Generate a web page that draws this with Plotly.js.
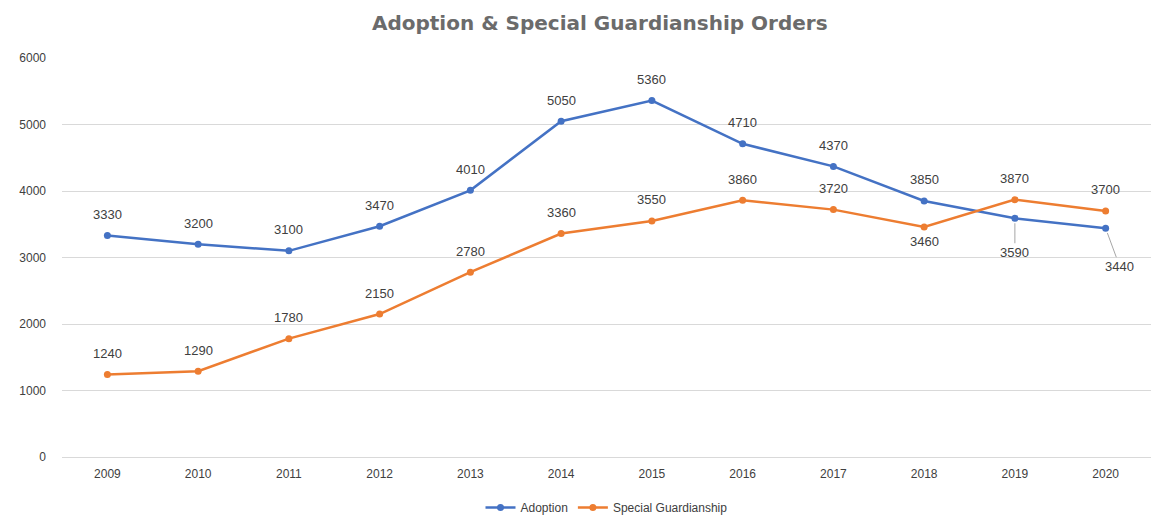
<!DOCTYPE html>
<html>
<head>
<meta charset="utf-8">
<script src="https://cdn.plot.ly/plotly-3.0.1.min.js"></script>
<style>html,body{margin:0;padding:0;background:#fff;}#chart{width:1176px;height:522px;}</style>
</head>
<body>
<div id="chart"></div>
<script>
const years = ['2009','2010','2011','2012','2013','2014','2015','2016','2017','2018','2019','2020'];
const adoption = [3330, 3200, 3100, 3470, 4010, 5050, 5360, 4710, 4370, 3850, 3590, 3440];
const sgo = [1240, 1290, 1780, 2150, 2780, 3360, 3550, 3860, 3720, 3460, 3870, 3700];

// label placement per point
const adoptionLabelPos = ['above','above','above','above','above','above','above','above','above','above','leader','leader'];
const sgoLabelPos = ['above','above','above','above','above','above','above','above','above','below','above','above'];
const leaderOffsets = {'2019': [0, 34], '2020': [14, 38]};

const labelFont = {family: 'Liberation Sans, Arial, sans-serif', size: 13, color: '#404040'};

const traces = [
  {
    name: 'Adoption', x: years, y: adoption, type: 'scatter', mode: 'lines+markers',
    line: {color: '#4472C4', width: 2.5}, marker: {color: '#4472C4', size: 7}
  },
  {
    name: 'Special Guardianship', x: years, y: sgo, type: 'scatter', mode: 'lines+markers',
    line: {color: '#ED7D31', width: 2.5}, marker: {color: '#ED7D31', size: 7}
  }
];

const annotations = [];
function addLabels(values, positions) {
  values.forEach((v, i) => {
    const p = positions[i];
    const a = {x: i, y: v, xref: 'x', yref: 'y', text: String(v), font: labelFont};
    if (p === 'leader') {
      const off = leaderOffsets[years[i]];
      Object.assign(a, {showarrow: true, arrowhead: 0, arrowwidth: 1, arrowcolor: '#a6a6a6',
                        ax: off[0], ay: off[1], standoff: 5});
    } else {
      Object.assign(a, {showarrow: false, yshift: p === 'above' ? 21 : -15});
    }
    annotations.push(a);
  });
}
addLabels(adoption, adoptionLabelPos);
addLabels(sgo, sgoLabelPos);

const layout = {
  width: 1176, height: 522,
  margin: {l: 62, r: 25, t: 58, b: 65},
  paper_bgcolor: '#fff', plot_bgcolor: '#fff',
  title: {text: 'Adoption &amp; Special Guardianship Orders', x: 0.51, xanchor: 'center', y: 0.955, yanchor: 'middle',
          font: {family: 'DejaVu Sans, sans-serif', size: 20, color: '#6b6b6b', weight: 'bold'}},
  xaxis: {type: 'category', range: [-0.5, 11.5], showgrid: false, showline: false, ticks: '',
          ticklabelstandoff: 8,
          tickfont: {family: 'Liberation Sans, Arial, sans-serif', size: 12, color: '#404040'}, fixedrange: true},
  yaxis: {range: [0, 6000], dtick: 1000, showgrid: true, gridcolor: '#d9d9d9', gridwidth: 1,
          zeroline: true, zerolinecolor: '#d9d9d9', zerolinewidth: 1, showline: false, ticks: '',
          ticklabelstandoff: 15,
          tickfont: {family: 'Liberation Sans, Arial, sans-serif', size: 12, color: '#404040'}, fixedrange: true},
  showlegend: true,
  legend: {orientation: 'h', x: 0.5, xanchor: 'center', xref: 'paper', yref: 'container', y: 0.0, yanchor: 'bottom',
           font: {family: 'Liberation Sans, Arial, sans-serif', size: 12, color: '#404040'}},
  annotations: annotations
};

Plotly.newPlot('chart', traces, layout, {displayModeBar: false, staticPlot: true});
</script>
</body>
</html>
